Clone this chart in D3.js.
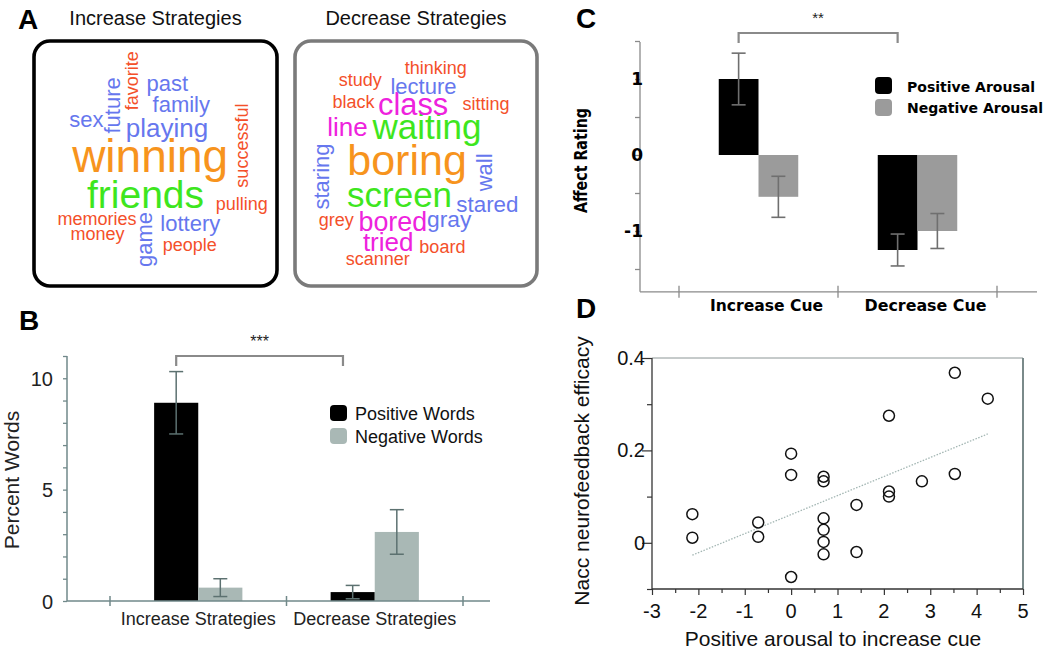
<!DOCTYPE html>
<html><head><meta charset="utf-8">
<script src="https://cdn.jsdelivr.net/npm/d3@7"></script>
<style>body{margin:0;background:#fff}svg{display:block;font-family:"Liberation Sans",Arial,Helvetica,sans-serif}</style>
</head><body><svg id="c" width="1050" height="652"></svg>
<script>
// ---------- Panel A: word clouds ----------
const incWords   = ["winning","friends","playing","past","family","sex","future","lottery","game","favorite","successful","pulling","memories","money","people"];
const incWeights = [8, 6.25, 3, 2, 2, 2, 2, 2, 2, 1, 1, 1, 1, 1, 1];
const incTiers   = [0, 1, 3, 3, 3, 3, 3, 3, 3, 4, 4, 4, 4, 4, 4];
const incPosX    = [47.8, 45.9, 54.7, 54.9, 60.6, 21.6, 35.5, 64.3, 48.6, 42.9, 88.2, 85.5, 25.9, 26.1, 64.1];
const incPosY    = [53.4, 68.0, 39.3, 20.6, 29.1, 35.2, 26.3, 77.7, 81.0, 16.2, 42.7, 68.8, 75.3, 81.4, 85.8];
const incRotate  = [0, 0, 0, 0, 0, 0, -90, 0, -90, -90, -90, 0, 0, 0, 0];

const decWords   = ["boring","waiting","screen","class","line","bored","tried","lecture","wall","staring","stared","gray","thinking","study","black","sitting","grey","board","scanner"];
const decWeights = [7.25, 5.25, 5.25, 4.2, 3, 3.2, 3, 2, 2, 2, 2.1, 2.2, 1, 1, 1, 1, 1, 1, 1];
const decTiers   = [0, 1, 1, 2, 2, 2, 2, 3, 3, 3, 3, 3, 4, 4, 4, 4, 4, 4, 4];
const decPosX    = [46.3, 54.5, 43.2, 48.8, 21.7, 40.4, 38.5, 53.1, 81.6, 13.9, 79.5, 63.7, 58.2, 27.0, 24.2, 78.9, 17.0, 60.9, 34.2];
const decPosY    = [54.7, 40.1, 67.6, 30.0, 38.9, 77.7, 85.8, 21.5, 53.6, 55.3, 69.6, 76.1, 13.4, 18.2, 27.5, 28.3, 75.7, 86.6, 91.5];
const decRotate  = [0, 0, 0, 0, 0, 0, 0, 0, -90, -90, 0, 0, 0, 0, 0, 0, 0, 0, 0];

const cloudTitles = ["Increase Strategies", "Decrease Strategies"];
const tierColors  = ["#f7941d", "#3ee61e", "#ee22dd", "#6677ee", "#f4502a"];

// ---------- Panel B ----------
const stratCats   = ["Increase Strategies", "Decrease Strategies"];
const wordSeries  = ["Positive Words", "Negative Words"];
const posWords    = [8.9, 0.4];
const posWordsErr = [1.4, 0.3];
const negWords    = [0.6, 3.1];
const negWordsErr = [0.4, 1.0];
const bTickLabels = [0, 5, 10];

// ---------- Panel C ----------
const cueCats        = ["Increase Cue", "Decrease Cue"];
const arousalSeries  = ["Positive Arousal", "Negative Arousal"];
const posArousal     = [1.0, -1.25];
const posArousalErr  = [0.34, 0.21];
const negArousal     = [-0.55, -1.0];
const negArousalErr  = [0.27, 0.23];
const cTickLabels    = [1, 0, -1];

// ---------- Panel D ----------
const arousalX  = [-2.13,-2.13,-0.71,-0.71,0.0,0.0,0.0,0.70,0.70,0.70,0.70,0.70,0.70,1.41,1.41,2.11,2.11,2.11,2.82,3.53,3.53,4.24];
const efficacyY = [0.062,0.011,0.044,0.013,0.193,0.147,-0.074,0.143,0.133,0.053,0.028,0.002,-0.025,0.082,-0.020,0.275,0.111,0.100,0.133,0.368,0.149,0.312];
const dXTicks   = [-3,-2,-1,0,1,2,3,4,5];
const dYTicks   = [0, 0.2, 0.4];

const svg = d3.select("#c");

function panelLabel(t, x, y) {
  svg.append("text").attr("x", x).attr("y", y).attr("font-size", 28).attr("font-weight", "bold").attr("fill", "#000").text(t);
}
panelLabel("A", 18, 29);
panelLabel("B", 19, 330);
panelLabel("C", 576, 28);
panelLabel("D", 576, 318);

// ---- Panel A ----
const fontScale = d3.scaleLinear().domain([1, 8]).range([18, 46]);
const clouds = [
  {x0: 34, y0: 41, w: 243, h: 245, stroke: "#000", words: incWords, weights: incWeights, tiers: incTiers, px: incPosX, py: incPosY, rot: incRotate},
  {x0: 295, y0: 41, w: 242, h: 245, stroke: "#7a7a7a", words: decWords, weights: decWeights, tiers: decTiers, px: decPosX, py: decPosY, rot: decRotate}
];
clouds.forEach((c, ci) => {
  svg.append("text").attr("x", c.x0 + c.w / 2).attr("y", 25).attr("text-anchor", "middle")
    .attr("font-size", 20).attr("fill", "#111").text(cloudTitles[ci]);
  svg.append("rect").attr("x", c.x0).attr("y", c.y0).attr("width", c.w).attr("height", c.h)
    .attr("rx", 16).attr("fill", "none").attr("stroke", c.stroke).attr("stroke-width", 3.6);
  const sx = d3.scaleLinear().domain([0, 100]).range([c.x0, c.x0 + c.w]);
  const sy = d3.scaleLinear().domain([0, 100]).range([c.y0, c.y0 + c.h]);
  const data = c.words.map((w, i) => ({w, wt: c.weights[i], tier: c.tiers[i], x: c.px[i], y: c.py[i], r: c.rot[i]}));
  svg.append("g").selectAll("text").data(data).join("text")
    .attr("transform", d => `translate(${sx(d.x)},${sy(d.y)}) rotate(${d.r})`)
    .attr("text-anchor", "middle")
    .attr("font-size", d => fontScale(d.wt))
    .attr("fill", d => tierColors[d.tier])
    .text(d => d.w);
});

// ---- Panel B ----
(function() {
  const axisCol = "#71898a";
  const x = d3.scaleBand().domain(stratCats).range([110, 463]).paddingInner(0).paddingOuter(0);
  const xs = d3.scaleBand().domain(wordSeries).range([x.bandwidth() * 0.25, x.bandwidth() * 0.75]);
  const y = d3.scaleLinear().domain([0, 11]).range([601, 356]);
  const colors = ["#000", "#a9b8b5"];
  const vals = [posWords, negWords], errs = [posWordsErr, negWordsErr];
  const g = svg.append("g");
  wordSeries.forEach((s, si) => {
    stratCats.forEach((c, ci) => {
      g.append("rect").attr("x", x(c) + xs(s)).attr("y", y(vals[si][ci])).attr("width", xs.bandwidth())
        .attr("height", y(0) - y(vals[si][ci])).attr("fill", colors[si]);
    });
  });
  wordSeries.forEach((s, si) => {
    stratCats.forEach((c, ci) => {
      const cx = x(c) + xs(s) + xs.bandwidth() / 2;
      const v = vals[si][ci], e = errs[si][ci];
      const eg = g.append("g").attr("stroke", "#5c7170").attr("stroke-width", 1.5);
      eg.append("line").attr("x1", cx).attr("x2", cx).attr("y1", y(v + e)).attr("y2", y(v - e));
      eg.append("line").attr("x1", cx - 7).attr("x2", cx + 7).attr("y1", y(v + e)).attr("y2", y(v + e));
      eg.append("line").attr("x1", cx - 7).attr("x2", cx + 7).attr("y1", y(v - e)).attr("y2", y(v - e));
    });
  });
  const ya = g.append("g").attr("transform", "translate(67,0)")
    .call(d3.axisLeft(y).tickValues(d3.range(0, 12)).tickSize(4).tickPadding(10)
      .tickFormat(d => bTickLabels.includes(d) ? d : ""));
  ya.select(".domain").attr("stroke", axisCol).attr("stroke-width", 1.5).attr("d", `M0,${y(11)}V${y(0)}`);
  ya.selectAll(".tick line").attr("stroke", axisCol).attr("stroke-width", 1.3);
  ya.selectAll(".tick text").attr("font-size", 20).attr("fill", "#222").attr("dy", "0.35em").attr("font-family", "Liberation Sans, Arial");
  g.append("line").attr("x1", 67).attr("x2", 490).attr("y1", y(0)).attr("y2", y(0)).attr("stroke", axisCol).attr("stroke-width", 1.5);
  const bounds = [...stratCats.map(c => x(c)), x.range()[1]];
  bounds.forEach(b => g.append("line").attr("x1", b).attr("x2", b).attr("y1", y(0) - 5).attr("y2", y(0) + 5).attr("stroke", axisCol).attr("stroke-width", 1.5));
  stratCats.forEach(c => g.append("text").attr("x", x(c) + x.bandwidth() / 2).attr("y", 625).attr("text-anchor", "middle")
    .attr("font-size", 18).attr("fill", "#222").text(c));
  g.append("text").attr("transform", "translate(19,480) rotate(-90)").attr("text-anchor", "middle")
    .attr("font-size", 21).attr("fill", "#222").text("Percent Words");
  const bx1 = x(stratCats[0]) + x.bandwidth() * 0.375, bx2 = x(stratCats[1]) + x.bandwidth() * 0.32;
  g.append("path").attr("d", `M${bx1},${366}V${356}H${bx2}V${366}`).attr("fill", "none").attr("stroke", "#8a8a8a").attr("stroke-width", 2.2);
  g.append("text").attr("x", (bx1 + bx2) / 2).attr("y", 347).attr("text-anchor", "middle").attr("font-size", 16).attr("fill", "#222").text("***");
  wordSeries.forEach((s, i) => {
    g.append("rect").attr("x", 330).attr("y", 405 + i * 23).attr("width", 17).attr("height", 16).attr("rx", 4).attr("fill", colors[i]);
    g.append("text").attr("x", 355).attr("y", 420 + i * 23).attr("font-size", 18).attr("fill", "#111").text(s);
  });
})();

// ---- Panel C ----
(function() {
  const axisCol = "#8a8a8a";
  const x = d3.scaleBand().domain(cueCats).range([679, 997]).paddingInner(0).paddingOuter(0);
  const xs = d3.scaleBand().domain(arousalSeries).range([x.bandwidth() * 0.25, x.bandwidth() * 0.75]);
  const y = d3.scaleLinear().domain([-1.8, 1.5]).range([291.8, 41]);
  const colors = ["#000", "#9b9b9b"];
  const vals = [posArousal, negArousal], errs = [posArousalErr, negArousalErr];
  const g = svg.append("g");
  arousalSeries.forEach((s, si) => cueCats.forEach((c, ci) => {
    const v = vals[si][ci];
    g.append("rect").attr("x", x(c) + xs(s)).attr("y", y(Math.max(0, v))).attr("width", xs.bandwidth())
      .attr("height", Math.abs(y(v) - y(0))).attr("fill", colors[si]);
  }));
  arousalSeries.forEach((s, si) => cueCats.forEach((c, ci) => {
    const cx = x(c) + xs(s) + xs.bandwidth() / 2;
    const v = vals[si][ci], e = errs[si][ci];
    const eg = g.append("g").attr("stroke", "#6f6f6f").attr("stroke-width", 1.6);
    eg.append("line").attr("x1", cx).attr("x2", cx).attr("y1", y(v + e)).attr("y2", y(v - e));
    eg.append("line").attr("x1", cx - 7).attr("x2", cx + 7).attr("y1", y(v + e)).attr("y2", y(v + e));
    eg.append("line").attr("x1", cx - 7).attr("x2", cx + 7).attr("y1", y(v - e)).attr("y2", y(v - e));
  }));
  const ya = g.append("g").attr("transform", "translate(640,0)")
    .call(d3.axisLeft(y).tickValues(d3.range(-1.5, 1.51, 0.5)).tickSize(5).tickFormat(""));
  ya.select(".domain").attr("stroke", axisCol).attr("stroke-width", 1.3).attr("d", `M0,${y(1.5) + 1}V${y(-1.8)}`);
  ya.selectAll(".tick line").attr("stroke", axisCol).attr("stroke-width", 1.3);
  cTickLabels.forEach(t => g.append("text").attr("x", 643).attr("y", y(t) + 6).attr("text-anchor", "end")
    .attr("font-size", 17).attr("font-weight", 900).attr("font-family", "DejaVu Sans, sans-serif").attr("fill", "#000").text(t));
  g.append("line").attr("x1", 640).attr("x2", 1037).attr("y1", y(-1.8)).attr("y2", y(-1.8)).attr("stroke", axisCol).attr("stroke-width", 1.3);
  const bounds = [...cueCats.map(c => x(c)), x.range()[1]];
  bounds.forEach(b => g.append("line").attr("x1", b).attr("x2", b).attr("y1", y(-1.8) - 6).attr("y2", y(-1.8) + 6).attr("stroke", axisCol).attr("stroke-width", 1.3));
  const xlabLen = [113, 122];
  cueCats.forEach((c, i) => g.append("text").attr("x", x(c) + x.bandwidth() / 2 + 8).attr("y", 311).attr("text-anchor", "middle")
    .attr("font-size", 16).attr("font-weight", 900).attr("font-family", "DejaVu Sans, sans-serif")
    .attr("textLength", xlabLen[i]).attr("lengthAdjust", "spacingAndGlyphs").text(c));
  g.append("text").attr("transform", "translate(587,160.5) rotate(-90)").attr("text-anchor", "middle")
    .attr("font-size", 17).attr("font-weight", 900).attr("font-family", "DejaVu Sans, sans-serif")
    .attr("textLength", 105).attr("lengthAdjust", "spacingAndGlyphs").text("Affect Rating");
  const bx1 = x(cueCats[0]) + xs(arousalSeries[0]) + xs.bandwidth() / 2;
  const bx2 = x(cueCats[1]) + xs(arousalSeries[0]) + xs.bandwidth() / 2;
  g.append("path").attr("d", `M${bx1},43V33H${bx2}V43`).attr("fill", "none").attr("stroke", "#8a8a8a").attr("stroke-width", 2.2);
  g.append("text").attr("x", (bx1 + bx2) / 2).attr("y", 23).attr("text-anchor", "middle").attr("font-size", 15).attr("fill", "#222").text("**");
  const legLen = [128, 136];
  arousalSeries.forEach((s, i) => {
    g.append("rect").attr("x", 875).attr("y", 77 + i * 22).attr("width", 17).attr("height", 17).attr("rx", 4).attr("fill", colors[i]);
    g.append("text").attr("x", 907).attr("y", 92 + i * 21).attr("font-size", 14).attr("font-weight", 900)
      .attr("font-family", "DejaVu Sans, sans-serif").attr("textLength", legLen[i]).attr("lengthAdjust", "spacingAndGlyphs").text(s);
  });
})();

// ---- Panel D ----
(function() {
  const x = d3.scaleLinear().domain([-3, 5]).range([652, 1023]);
  const y = d3.scaleLinear().domain([-0.1, 0.4]).range([589, 358]);
  const g = svg.append("g");
  g.append("line").attr("x1", x(-3)).attr("x2", x(5)).attr("y1", y(0.4)).attr("y2", y(0.4)).attr("stroke", "#8c9696").attr("stroke-width", 1);
  g.append("line").attr("x1", x(5)).attr("x2", x(5)).attr("y1", y(0.4)).attr("y2", y(-0.1)).attr("stroke", "#7a8a8a").attr("stroke-width", 2);
  const xa = g.append("g").attr("transform", `translate(0,${y(-0.1)})`)
    .call(d3.axisBottom(x).tickValues(d3.range(-3, 5.01, 0.5)).tickSize(4).tickFormat(""));
  xa.select(".domain").attr("stroke", "#333").attr("stroke-width", 1.3).attr("d", `M${x(-3)},0H${x(5)}`);
  xa.selectAll(".tick line").attr("stroke", "#333").attr("stroke-width", 1.2).attr("y2", d => Number.isInteger(d) ? 6 : 4);
  dXTicks.forEach(t => g.append("text").attr("x", x(t)).attr("y", 618).attr("text-anchor", "middle").attr("font-size", 20).attr("fill", "#111").text(t));
  const ya = g.append("g").attr("transform", `translate(${x(-3)},0)`)
    .call(d3.axisLeft(y).tickValues([-0.1, 0, 0.1, 0.2, 0.3, 0.4]).tickSize(6).tickFormat(""));
  ya.select(".domain").attr("stroke", "#333").attr("stroke-width", 1.3).attr("d", `M0,${y(0.4)}V${y(-0.1)}`);
  ya.selectAll(".tick line").attr("stroke", "#333").attr("stroke-width", 1.2).attr("x2", d => dYTicks.some(t => Math.abs(t - d) < 1e-9) ? -10 : -5);
  dYTicks.forEach(t => g.append("text").attr("x", 645).attr("y", y(t) + 7).attr("text-anchor", "end").attr("font-size", 20).attr("fill", "#111").text(d3.format("")(t)));
  const mx = d3.mean(arousalX), my = d3.mean(efficacyY);
  const sxy = d3.sum(arousalX, (v, i) => (v - mx) * (efficacyY[i] - my));
  const sxx = d3.sum(arousalX, v => (v - mx) * (v - mx));
  const slope = sxy / sxx, icpt = my - slope * mx;
  const [x0, x1] = d3.extent(arousalX);
  g.append("line").attr("x1", x(x0)).attr("x2", x(x1)).attr("y1", y(icpt + slope * x0)).attr("y2", y(icpt + slope * x1))
    .attr("stroke", "#a3b6b3").attr("stroke-width", 1.3).attr("stroke-dasharray", "1.5,1.5");
  g.selectAll("circle").data(arousalX.map((v, i) => [v, efficacyY[i]])).join("circle")
    .attr("cx", d => x(d[0])).attr("cy", d => y(d[1])).attr("r", 5.5)
    .attr("fill", "none").attr("stroke", "#111").attr("stroke-width", 1.5);
  g.append("text").attr("transform", "translate(589,471) rotate(-90)").attr("text-anchor", "middle").attr("font-size", 21).attr("fill", "#111").text("Nacc neurofeedback efficacy");
  g.append("text").attr("x", 833).attr("y", 646).attr("text-anchor", "middle").attr("font-size", 21).attr("fill", "#111").text("Positive arousal to increase cue");
})();
</script></body></html>
